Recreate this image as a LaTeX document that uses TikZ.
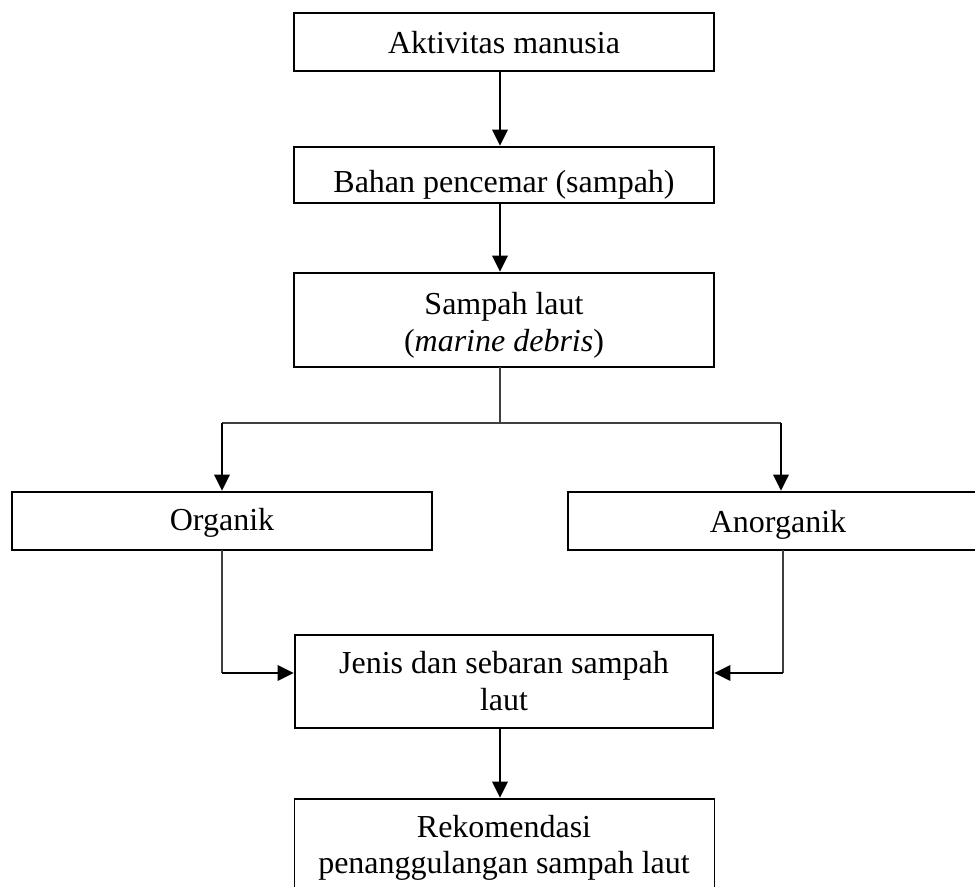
\documentclass[tikz,border=0pt]{standalone}
\usepackage{fontspec}
\setmainfont{Liberation Serif}
\usetikzlibrary{arrows.meta}
\begin{document}
\begin{tikzpicture}[x=0.375pt,y=-0.375pt,
  box/.style={draw=black, line width=0.6pt, inner sep=0pt, outer sep=0pt,
    minimum width=157.5pt},
  txt/.style={inner sep=0pt, align=center, anchor=base,
    font=\fontsize{12}{13.8}\selectfont},
  arr/.style={line width=0.75pt, -{Triangle[width=5.8pt,length=6pt]}, shorten >=0.5pt},
  thinline/.style={line width=0.45pt, draw=black!75}]
\useasboundingbox (0,0) rectangle (975,886);
\clip (0,0) rectangle (975,886);
% boxes
\node[box, minimum height=21.75pt] (b1) at (504,42) {};
\node[box, minimum height=21pt] (b2) at (504,175) {};
\node[box, minimum height=35.25pt] (b3) at (504,320) {};
\node[box, minimum height=21.75pt] (org) at (222,521) {};
\node[box, minimum height=21.75pt] (anorg) at (778,521) {};
\node[box, minimum width=156.75pt, minimum height=35pt] (jen) at (504,681.5) {};
\node[box, minimum height=35.25pt] (rek) at (504.5,846) {};
% texts
\node[txt] (t1) at (504,53) {Aktivitas manusia};
\node[txt] (t2) at (504,192) {Bahan pencemar (sampah)};
\node[txt] (t3a) at (504,314) {Sampah laut};
\node[txt] (t3b) at (504,351) {(\textit{marine debris})};
\node[txt] (to) at (222,530) {Organik};
\node[txt] (ta) at (778,532) {Anorganik};
\node[txt] (tja) at (504,673) {Jenis dan sebaran sampah};
\node[txt] (tjb) at (504,710) {laut};
\node[txt] (tra) at (504,837) {Rekomendasi};
\node[txt] (trb) at (504,873) {penanggulangan sampah laut};
% coordinates
\coordinate (cx) at (500,0);
\coordinate (split) at (500,423);
\coordinate (sl) at (222,423);
\coordinate (sr) at (781,423);
\coordinate (jl) at (222,673);
\coordinate (jr) at (783,673);
% connectors
\draw[arr] (b1.south -| cx) -- (b2.north -| cx);
\draw[arr] (b2.south -| cx) -- (b3.north -| cx);
\draw[thinline] (b3.south -| cx) -- (split);
\draw[thinline] (sl) -- (sr);
\draw[arr] (sl) -- (org.north -| sl);
\draw[arr] (sr) -- (anorg.north -| sr);
\draw[thinline] (org.south -| jl) -- (jl);
\draw[arr] (jl) -- (jen.west |- jl);
\draw[thinline] (anorg.south -| jr) -- (jr);
\draw[arr] (jr) -- (jen.east |- jr);
\draw[arr] (jen.south -| cx) -- (rek.north -| cx);
\end{tikzpicture}
\end{document}
